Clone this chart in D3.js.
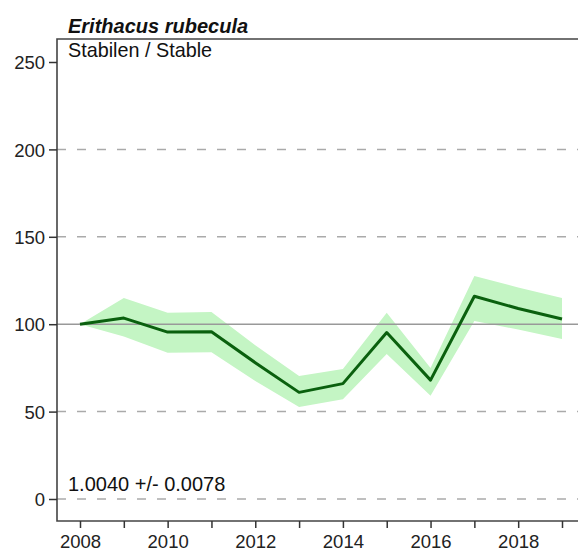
<!DOCTYPE html>
<html><head><meta charset="utf-8">
<script src="https://cdn.jsdelivr.net/npm/d3@7"></script>
<style>body{margin:0;background:#fff}svg{display:block}text{font-family:"Liberation Sans",Arial,sans-serif}</style>
</head><body>
<svg id="c" width="578" height="552"></svg>
<script>
const years = [2008,2009,2010,2011,2012,2013,2014,2015,2016,2017,2018,2019];
const index = [100,103.5,95.5,95.7,78,61,66,95.2,68,116,109,103];
const upper = [100,115,106.6,107,88,70.4,74.4,106.6,75,127.6,121,115];
const lower = [100,93,83.7,84,67.5,52.6,57,83,59,101.8,97,91.5];
const yTicks = [0,50,100,150,200,250];
const gridTicks = [0,50,150,200];
const xLabelTicks = [2008,2010,2012,2014,2016,2018];
const xMinorTicks = [2009,2011,2013,2015,2017,2019];
const title = "Erithacus rubecula";
const trendLabel = "Stabilen / Stable";
const slopeLabel = "1.0040 +/- 0.0078";

const svg = d3.select("#c");
const L = 57, T = 39, R = 600, B = 521;
const x = d3.scaleLinear().domain([2008,2019]).range([80,562]);
const y = d3.scaleLinear().domain([0,250]).range([499,62]);
const FF = "Liberation Sans, Arial, sans-serif";

// gridlines
svg.append("g").selectAll("line").data(gridTicks).join("line")
  .attr("x1",L).attr("x2",R).attr("y1",d=>y(d)).attr("y2",d=>y(d))
  .attr("stroke","#aaa").attr("stroke-width",1.5).attr("stroke-dasharray","9,11");

// band
svg.append("path").datum(years.map((d,i)=>({x:d,u:upper[i],l:lower[i]})))
  .attr("fill","#c4f5c4")
  .attr("d",d3.area().x(d=>x(d.x)).y0(d=>y(d.l)).y1(d=>y(d.u)));

// reference line 100
svg.append("line").attr("x1",L).attr("x2",R).attr("y1",y(100)).attr("y2",y(100))
  .attr("stroke","#999").attr("stroke-width",1.5);

// index line
svg.append("path").datum(years.map((d,i)=>({x:d,v:index[i]})))
  .attr("fill","none").attr("stroke","#0a600e").attr("stroke-width",3)
  .attr("stroke-linejoin","round")
  .attr("d",d3.line().x(d=>x(d.x)).y(d=>y(d.v)));

// frame
svg.append("path").attr("d",`M${R},${T}H${L}V${B}H${R}`)
  .attr("fill","none").attr("stroke","#444").attr("stroke-width",1.6);

// y axis
const ya = svg.append("g").attr("transform",`translate(${L},0)`)
  .call(d3.axisLeft(y).tickValues(yTicks).tickSize(8).tickPadding(4));
ya.select(".domain").remove();
ya.selectAll("line").attr("stroke","#333").attr("stroke-width",1.5);
ya.selectAll("text").attr("font-size",18.5).attr("fill","#222").attr("font-family",FF).attr("dy","0.36em");

// x axis
const xa = svg.append("g").attr("transform",`translate(0,${B})`)
  .call(d3.axisBottom(x).tickValues(xLabelTicks).tickFormat(d3.format("d")).tickSize(7).tickPadding(7));
xa.select(".domain").remove();
xa.selectAll("line").attr("stroke","#333").attr("stroke-width",1.5);
xa.selectAll("text").attr("font-size",18.5).attr("fill","#222").attr("font-family",FF);
const xm = svg.append("g").attr("transform",`translate(0,${B})`)
  .call(d3.axisBottom(x).tickValues(xMinorTicks).tickFormat("").tickSize(7));
xm.select(".domain").remove();
xm.selectAll("line").attr("stroke","#333").attr("stroke-width",1.5);

// texts
svg.append("text").attr("x",68).attr("y",33).attr("font-size",20)
  .attr("font-weight","bold").attr("font-style","italic").attr("fill","#111").text(title);
svg.append("text").attr("x",68).attr("y",57).attr("font-size",19.8).attr("fill","#111").text(trendLabel);
svg.append("text").attr("x",68).attr("y",491).attr("font-size",20).attr("fill","#111").text(slopeLabel);
</script>
</body></html>
